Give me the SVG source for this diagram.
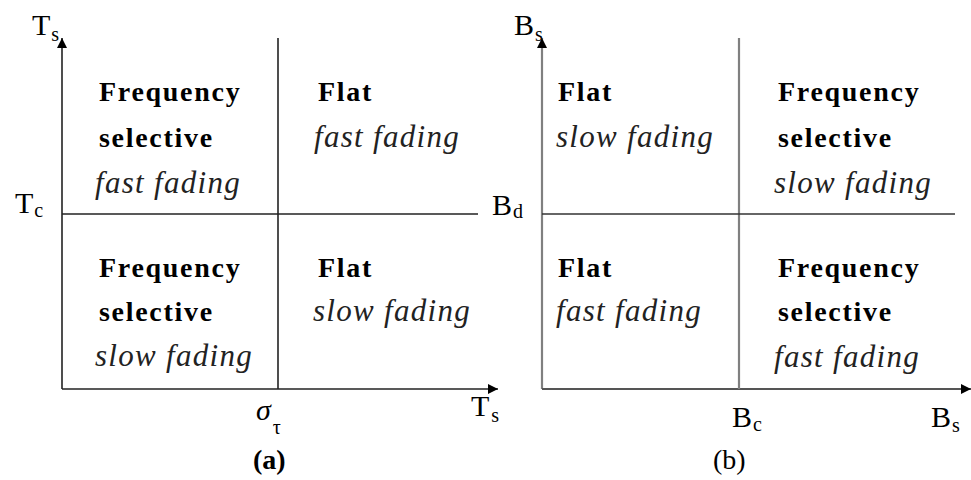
<svg xmlns="http://www.w3.org/2000/svg" width="971" height="480" viewBox="0 0 971 480">
<defs>
<marker id="arr" viewBox="0 0 10 10" refX="10" refY="5" markerWidth="12" markerHeight="10" markerUnits="userSpaceOnUse" orient="auto">
<path d="M0,0 L10,5 L0,10 z" fill="#000"/>
</marker>
<style>
text{font-family:"Liberation Serif","Times New Roman",serif;fill:#000}
.b{font-weight:bold;font-size:28px;letter-spacing:1.7px}
.i{font-style:italic;font-size:31px;letter-spacing:1.3px;fill:#222}
.ax{font-size:30px}
.sub{font-size:20px}
.cap{font-size:28px}
.la{stroke:#222;stroke-width:1.6;fill:none}
.lbv{stroke:#808080;stroke-width:2.2;fill:none}
.lbh{stroke:#333;stroke-width:1.6;fill:none}
.lbx{stroke:#555;stroke-width:2;fill:none}
</style>
</defs>
<g id="connectors">
<line class="la" x1="62" y1="389" x2="62" y2="38" marker-end="url(#arr)"/>
<line class="la" x1="62" y1="389" x2="498" y2="389" marker-end="url(#arr)"/>
<line class="la" x1="278" y1="38" x2="278" y2="389"/>
<line class="la" x1="62" y1="214" x2="478" y2="214"/>
<line class="lbv" x1="542" y1="389" x2="542" y2="38" marker-end="url(#arr)"/>
<line class="lbx" x1="542" y1="389" x2="971" y2="389" marker-end="url(#arr)"/>
<line class="lbv" x1="739" y1="38" x2="739" y2="389"/>
<line class="lbh" x1="542" y1="214" x2="955" y2="214"/>
</g>
<g id="panel-a-labels">
<text class="ax" x="32" y="35">T<tspan class="sub" dx="1" dy="6">s</tspan></text>
<text class="ax" x="15" y="213">T<tspan class="sub" dx="1" dy="4">c</tspan></text>
<text class="ax" x="256" y="420" font-style="italic">σ<tspan class="sub" dx="2" dy="14" font-style="normal">τ</tspan></text>
<text class="ax" x="471" y="416">T<tspan class="sub" dx="2" dy="6">s</tspan></text>
<text class="cap" x="253" y="469" font-weight="bold">(a)</text>
</g>
<g id="a-tl"><text class="b" x="99" y="101">Frequency</text><text class="b" x="99" y="147">selective</text><text class="i" x="95" y="193">fast fading</text></g>
<g id="a-tr"><text class="b" x="318" y="101">Flat</text><text class="i" x="314" y="147">fast fading</text></g>
<g id="a-bl"><text class="b" x="99" y="277">Frequency</text><text class="b" x="99" y="321">selective</text><text class="i" x="95" y="366">slow fading</text></g>
<g id="a-br"><text class="b" x="318" y="277">Flat</text><text class="i" x="313" y="321">slow fading</text></g>
<g id="panel-b-labels">
<text class="ax" x="514" y="35">B<tspan class="sub" dx="1" dy="6">s</tspan></text>
<text class="ax" x="492" y="215">B<tspan class="sub" dx="1" dy="3">d</tspan></text>
<text class="ax" x="732" y="427">B<tspan class="sub" dx="1" dy="4">c</tspan></text>
<text class="ax" x="931" y="427">B<tspan class="sub" dx="1" dy="5">s</tspan></text>
<text class="cap" x="713" y="469">(b)</text>
</g>
<g id="b-tl"><text class="b" x="558" y="101">Flat</text><text class="i" x="556" y="147">slow fading</text></g>
<g id="b-tr"><text class="b" x="778" y="101">Frequency</text><text class="b" x="778" y="147">selective</text><text class="i" x="774" y="193">slow fading</text></g>
<g id="b-bl"><text class="b" x="558" y="277">Flat</text><text class="i" x="556" y="321">fast fading</text></g>
<g id="b-br"><text class="b" x="778" y="277">Frequency</text><text class="b" x="778" y="321">selective</text><text class="i" x="774" y="367">fast fading</text></g>
</svg>
